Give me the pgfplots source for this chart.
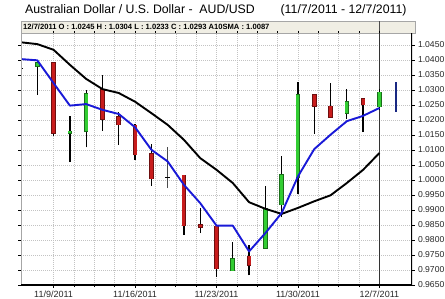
\documentclass[border=0pt]{standalone}
\usepackage{pgfplots}
\pgfplotsset{compat=1.18}
\usepackage{pgfplotstable}
\usepackage{fontspec}
\setmainfont{Liberation Sans}
\definecolor{cred}{RGB}{200,28,28}
\definecolor{credd}{RGB}{110,15,15}
\definecolor{cgreen}{RGB}{50,205,50}
\definecolor{cgreend}{RGB}{25,110,25}
\definecolor{cblue}{RGB}{25,25,215}
\definecolor{cnavy}{RGB}{25,40,130}
\definecolor{hdr}{RGB}{240,238,228}
\definecolor{gridc}{RGB}{195,195,195}

\pgfplotstableread{
i o h l c
1 1.0379 1.0396 1.0284 1.0390
3 1.0157 1.0212 1.0060 1.0163
4 1.0162 1.0301 1.0109 1.0287
13 0.9698 0.9792 0.9698 0.9738
15 0.9773 0.9981 0.9773 0.9904
16 0.9918 1.0079 0.9876 1.0018
17 1.0009 1.0326 0.9953 1.0284
20 1.0223 1.0304 1.0203 1.0260
22 1.0245 1.0304 1.0233 1.0293
}\green

\pgfplotstableread{
i o h l c
2 1.0390 1.0393 1.0146 1.0157
5 1.0303 1.0349 1.0164 1.0203
6 1.0210 1.0227 1.0118 1.0184
7 1.0182 1.0188 1.0068 1.0084
8 1.0087 1.0120 0.9981 1.0004
10 1.0016 1.0016 0.9818 0.9848
11 0.9851 0.9907 0.9823 0.9842
12 0.9846 0.9851 0.9677 0.9704
14 0.9746 0.9782 0.9682 0.9716
18 1.0284 1.0284 1.0154 1.0246
19 1.0246 1.0323 1.0210 1.0210
21 1.0271 1.0273 1.0160 1.0251
}\red

\pgfplotstableread{
i o h l c
0 1.0371 1.0423 1.0279 1.0374
9 1.0008 1.0110 0.9973 1.0011
}\doji

\pgfplotstableread{
i l h
23 1.0227 1.0327
}\extra

\pgfplotstableread{
i v
0 1.0403
1 1.0399
2 1.0323
3 1.0248
4 1.0253
5 1.0234
6 1.0220
7 1.0176
8 1.0101
9 1.0062
10 0.9984
11 0.9923
12 0.9848
13 0.9848
14 0.9762
15 0.9823
16 0.9890
17 1.0012
18 1.0103
19 1.0151
20 1.0196
21 1.0214
22 1.0240
}\smafive

\pgfplotstableread{
i v
0 1.0459
1 1.0453
2 1.0434
3 1.0384
4 1.0337
5 1.0303
6 1.0290
7 1.0261
8 1.0223
9 1.0184
10 1.0134
11 1.0073
12 1.0034
13 0.9990
14 0.9926
15 0.9904
16 0.9887
17 0.9907
18 0.9929
19 0.9949
20 0.9990
21 1.0034
22 1.0090
}\smaten

\begin{document}
\begin{tikzpicture}
\path[use as bounding box] (0pt,0pt) rectangle (445pt,298pt);
\node[anchor=west, inner sep=0, font=\fontsize{12.3}{14}\selectfont] at (25pt,287.5pt)
  {Australian Dollar / U.S. Dollar -\ \ AUD/USD\hspace{2.1em}(11/7/2011 - 12/7/2011)};
\filldraw[fill=hdr, draw=gray!70, line width=0.5pt] (21pt,265pt) rectangle (415pt,277pt);
\node[anchor=west, inner sep=0, font=\bfseries\fontsize{7.6}{9}\selectfont] at (23pt,271pt)
  {12/7/2011 O : 1.0245 H : 1.0304 L : 1.0233 C : 1.0293 A10SMA : 1.0087};
\draw[gray!60!black, line width=0.6pt] (379.4pt,265pt) -- (379.4pt,277pt);
\begin{axis}[
  at={(21pt,13pt)}, anchor=south west,
  scale only axis, width=391pt, height=252pt,
  xmin=0, xmax=24, ymin=0.965, ymax=1.049,
  axis line style={draw=none},
  xtick={2,7,12,17,22},
  xticklabels={11/9/2011,11/16/2011,11/23/2011,11/30/2011,12/7/2011},
  minor x tick num=3,
  ytick={0.965,0.970,0.975,0.980,0.985,0.990,0.995,1.000,1.005,1.010,1.015,1.020,1.025,1.030,1.035,1.040,1.045},
  yticklabel pos=right,
  yticklabel style={font=\fontsize{8.6}{10}\selectfont, text=black!85, /pgf/number format/.cd, fixed, fixed zerofill, precision=4, assume math mode=true},
  xticklabel style={font=\fontsize{9}{10}\selectfont, text=black!85},
  tick align=outside,
  major tick length=2.5pt, minor tick length=2pt,
  tick style={black, line width=0.6pt},
  ymajorgrids, xmajorgrids, xminorgrids,
  grid style={gridc, line width=0.5pt, dash pattern=on 1pt off 1pt},
  minor grid style={gridc, line width=0.5pt, dash pattern=on 1pt off 1pt},
  clip=true,
]
\addplot[gray!40!black, line width=0.7pt] coordinates {(22,0.965) (22,1.049)};
\addplot[black, line width=1.3pt, quiver={u=0, v=\thisrow{h}-\thisrow{l}}] table[x=i, y=l] {\green};
\addplot[black, line width=1.3pt, quiver={u=0, v=\thisrow{h}-\thisrow{l}}] table[x=i, y=l] {\red};
\addplot[black!70, line width=1.3pt, quiver={u=0, v=\thisrow{h}-\thisrow{l}}] table[x=i, y=l] {\doji};
\addplot[cgreend, line width=4.6pt, shorten >=-0.6pt, shorten <=-0.6pt, quiver={u=0, v=\thisrow{c}-\thisrow{o}}] table[x=i, y=o] {\green};
\addplot[cgreen, line width=3pt, quiver={u=0, v=\thisrow{c}-\thisrow{o}}] table[x=i, y=o] {\green};
\addplot[credd, line width=4.6pt, shorten >=-0.6pt, shorten <=-0.6pt, quiver={u=0, v=\thisrow{o}-\thisrow{c}}] table[x=i, y=c] {\red};
\addplot[cred, line width=3pt, quiver={u=0, v=\thisrow{o}-\thisrow{c}}] table[x=i, y=c] {\red};
\addplot[black, line width=4.6pt, quiver={u=0, v=\thisrow{c}-\thisrow{o}}] table[x=i, y=o] {\doji};
\addplot[cnavy, line width=1.8pt, quiver={u=0, v=\thisrow{h}-\thisrow{l}}] table[x=i, y=l] {\extra};
\addplot[black, line width=1.9pt, line join=round] table[x=i, y=v] {\smaten};
\addplot[cblue, line width=1.9pt, line join=round] table[x=i, y=v] {\smafive};
\draw[gray!70, line width=0.8pt] (rel axis cs:0,0) -- (rel axis cs:0,1);
\draw[black, line width=2pt] (rel axis cs:0,0) -- (rel axis cs:1,0) -- (rel axis cs:1,1.047);
\end{axis}
\end{tikzpicture}
\end{document}
